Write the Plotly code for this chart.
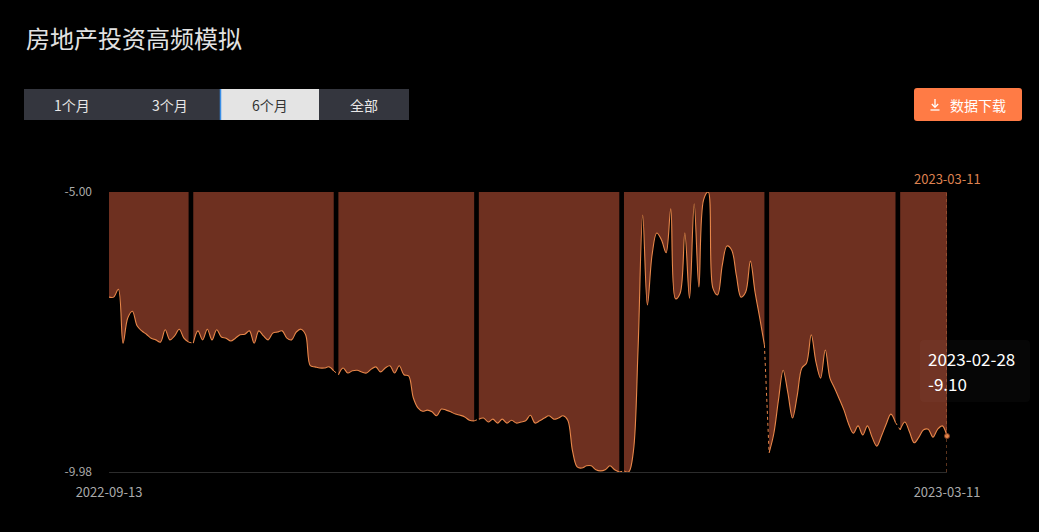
import plotly.graph_objects as go
import pandas as pd

# ---------------- data ----------------
title_text = "房地产投资高频模拟"
range_buttons = ["1个月", "3个月", "6个月", "全部"]
selected_button = "6个月"
download_label = "数据下载"
start_date = "2022-09-13"
end_date = "2023-03-11"
y_tick_values = [-5.00, -9.98]
y_tick_labels = ["-5.00", "-9.98"]
x_tick_labels = ["2022-09-13", "2023-03-11"]
tooltip_date = "2023-02-28"
tooltip_value = -9.10

sep_values = [-6.87, -6.87, -6.73, -7.69, -7.24, -7.12, -7.38, -7.47, -7.53, -7.60,
              -7.63, -7.67, -7.45, -7.63, -7.56, -7.44, -7.60, -7.67]
oct_values = [-7.69, -7.47, -7.63, -7.44, -7.63, -7.45, -7.58, -7.60, -7.65, -7.60,
              -7.54, -7.53, -7.47, -7.69, -7.47, -7.56, -7.63, -7.51, -7.49, -7.47,
              -7.60, -7.63, -7.49, -7.44, -7.54, -8.09, -8.11, -8.13, -8.13, -8.11, -8.18]
nov_values = [-8.25, -8.13, -8.22, -8.18, -8.17, -8.20, -8.22, -8.15, -8.11, -8.20,
              -8.13, -8.09, -8.22, -8.09, -8.25, -8.27, -8.66, -8.84, -8.90, -8.88,
              -8.91, -8.98, -8.86, -8.88, -8.91, -8.95, -8.97, -9.00, -9.06, -9.07]
dec_values = [-9.04, -9.02, -9.09, -9.04, -9.11, -9.04, -9.11, -9.06, -9.11, -9.09,
              -9.07, -8.97, -9.11, -9.07, -9.02, -8.98, -9.04, -9.02, -8.98, -9.06,
              -9.60, -9.89, -9.91, -9.87, -9.87, -9.94, -9.96, -9.94, -9.87, -9.94, -9.98]
jan_values = [-9.96, -9.98, -9.62, -7.81, -5.41, -7.01, -6.12, -5.73, -5.85, -6.08,
              -5.30, -6.90, -6.80, -5.73, -6.89, -5.21, -6.69, -5.14, -5.00, -6.71,
              -6.83, -6.30, -5.96, -6.03, -6.48, -6.87, -6.78, -6.23, -6.78, -7.24, -7.72]
feb_values = [-9.64, -9.30, -8.70, -8.17, -8.57, -9.02, -8.62, -8.13, -8.04, -7.54,
              -8.02, -8.31, -7.81, -8.31, -8.49, -8.68, -8.88, -9.13, -9.29, -9.16,
              -9.32, -9.16, -9.36, -9.52, -9.34, -9.13, -8.95, -9.10]
mar_values = [-9.23, -9.09, -9.27, -9.46, -9.36, -9.23, -9.22, -9.36, -9.22, -9.16, -9.34]

month_values = [sep_values, oct_values, nov_values, dec_values, jan_values, feb_values, mar_values]

# ---------------- style ----------------
FILL = "#6e3020"
LINE = "#e8874a"
BG = "#000000"
CJK = "Noto Sans CJK SC, Noto Sans, sans-serif"

W, H = 1039, 532
PL, PR, PT, PB = 109, 947, 192, 472


def px(x):
    return (x - PL) / (PR - PL)


def py(y):
    return (PB - y) / (PB - PT)


def rrect(x0, y0, x1, y1, r):
    pts = [
        ("M", [(x0 + r, y0)]),
        ("L", [(x1 - r, y0)]),
        ("Q", [(x1, y0), (x1, y0 + r)]),
        ("L", [(x1, y1 - r)]),
        ("Q", [(x1, y1), (x1 - r, y1)]),
        ("L", [(x0 + r, y1)]),
        ("Q", [(x0, y1), (x0, y1 - r)]),
        ("L", [(x0, y0 + r)]),
        ("Q", [(x0, y0), (x0 + r, y0)]),
    ]
    s = ""
    for cmd, ps in pts:
        s += cmd + " " + " ".join(f"{px(a):.5f},{py(b):.5f}" for a, b in ps) + " "
    return s + "Z"


dates = pd.date_range(start_date, end_date, freq="D")
all_vals = [v for seg in month_values for v in seg]
assert len(all_vals) == len(dates)

fig = go.Figure()

cx, cy = [], []
idx = 0
for mi, seg in enumerate(month_values):
    seg_dates = list(dates[idx: idx + len(seg)])
    fig.add_trace(go.Scatter(
        x=seg_dates, y=seg, mode="lines", fill="tozeroy", fillcolor=FILL,
        line=dict(color=LINE, width=1.1, shape="spline", smoothing=1.0),
        hoverinfo="skip", showlegend=False,
    ))
    if mi < len(month_values) - 1:
        cx.extend([seg_dates[-1], dates[idx + len(seg)], None])
        cy.extend([seg[-1], month_values[mi + 1][0], None])
    idx += len(seg)

# dotted connectors across month boundaries
fig.add_trace(go.Scatter(
    x=cx, y=cy, mode="lines",
    line=dict(color=LINE, width=1, dash="dot"),
    connectgaps=False, hoverinfo="skip", showlegend=False,
))
# end point marker
fig.add_trace(go.Scatter(
    x=[dates[-1]], y=[all_vals[-1]], mode="markers",
    marker=dict(size=5, color=LINE, line=dict(width=1, color="#7a3a20")),
    hoverinfo="skip", showlegend=False, cliponaxis=False,
))

shapes = []
annotations = []

# end pointer dotted line
shapes.append(dict(type="line", xref="x", yref="paper", x0=dates[-1], x1=dates[-1],
                   y0=0, y1=1, line=dict(color="#b8693a", width=1, dash="dot")))

# title
annotations.append(dict(text=title_text, xref="paper", yref="paper", x=px(24), y=py(37),
                        xanchor="left", yanchor="middle", showarrow=False,
                        font=dict(family=CJK, size=24, color="#e2e2e2")))

# range buttons
edges = [24, 120, 220, 319, 409]
shapes.append(dict(type="rect", xref="paper", yref="paper", x0=px(24), x1=px(409),
                   y0=py(120), y1=py(89), fillcolor="#34363e", line=dict(width=0), layer="above"))
for i, lab in enumerate(range_buttons):
    x0, x1 = edges[i], edges[i + 1]
    sel = lab == selected_button
    if sel:
        shapes.append(dict(type="rect", xref="paper", yref="paper", x0=px(x0), x1=px(x1),
                           y0=py(120), y1=py(89), fillcolor="#e4e4e4", line=dict(width=0),
                           layer="above"))
        shapes.append(dict(type="line", xref="paper", yref="paper", x0=px(x0 + 0.5), x1=px(x0 + 0.5),
                           y0=py(120), y1=py(89), line=dict(color="#3a8ee6", width=1.5),
                           layer="above"))
    annotations.append(dict(text=lab, xref="paper", yref="paper", x=px((x0 + x1) / 2), y=py(105),
                            xanchor="center", yanchor="middle", showarrow=False,
                            font=dict(family=CJK, size=14, color="#333333" if sel else "#e8e8e8")))

# download button
shapes.append(dict(type="path", xref="paper", yref="paper", path=rrect(914, 88, 1022, 121, 3),
                   fillcolor="#ff7b45", line=dict(width=0), layer="above"))
annotations.append(dict(text=download_label, xref="paper", yref="paper", x=px(978), y=py(104.5),
                        xanchor="center", yanchor="middle", showarrow=False,
                        font=dict(family=CJK, size=14, color="#ffffff")))
icon_col = "#ffffff"
shapes.append(dict(type="line", xref="paper", yref="paper", x0=px(935), x1=px(935),
                   y0=py(99), y1=py(107), line=dict(color=icon_col, width=1.3), layer="above"))
shapes.append(dict(type="path", xref="paper", yref="paper",
                   path=f"M {px(931.8)},{py(104)} L {px(935)},{py(107.3)} L {px(938.2)},{py(104)}",
                   line=dict(color=icon_col, width=1.3), layer="above"))
shapes.append(dict(type="line", xref="paper", yref="paper", x0=px(930.5), x1=px(939.5),
                   y0=py(110), y1=py(110), line=dict(color=icon_col, width=1.3), layer="above"))

# end-date label (orange)
annotations.append(dict(text=x_tick_labels[-1], xref="x", yref="paper", x=dates[-1], y=py(179),
                        xanchor="center", yanchor="middle", showarrow=False,
                        font=dict(family=CJK, size=13, color="#de8250")))

# tooltip
shapes.append(dict(type="path", xref="paper", yref="paper", path=rrect(920, 340, 1030, 402, 4),
                   fillcolor="rgba(255,255,255,0.025)", line=dict(width=0), layer="above"))
annotations.append(dict(text=tooltip_date, xref="paper", yref="paper", x=px(926), y=py(358),
                        xanchor="left", yanchor="middle", showarrow=False,
                        font=dict(family=CJK, size=17, color="#ffffff")))
annotations.append(dict(text=f"{tooltip_value:.2f}", xref="paper", yref="paper", x=px(926), y=py(383),
                        xanchor="left", yanchor="middle", showarrow=False,
                        font=dict(family=CJK, size=17, color="#ffffff")))

fig.update_layout(
    width=W, height=H,
    margin=dict(l=PL, r=W - PR, t=PT, b=H - PB, pad=0),
    paper_bgcolor=BG, plot_bgcolor=BG,
    showlegend=False, hovermode=False,
    shapes=shapes, annotations=annotations,
    xaxis=dict(
        type="date", range=[dates[0], dates[-1]],
        tickvals=[dates[0], dates[-1]], ticktext=x_tick_labels,
        showgrid=False, zeroline=False, showline=True, linecolor="#2c2c2c", linewidth=1,
        ticks="", ticklabelstandoff=8,
        tickfont=dict(family=CJK, size=13, color="#aaaaaa"), fixedrange=True,
    ),
    yaxis=dict(
        range=[y_tick_values[1], y_tick_values[0]],
        tickvals=y_tick_values, ticktext=y_tick_labels,
        showgrid=False, zeroline=False, showline=False, ticks="",
        ticklabelstandoff=16,
        tickfont=dict(family=CJK, size=12, color="#aaaaaa"), fixedrange=True,
    ),
)

fig.write_html("out.html", config={"displayModeBar": False})
